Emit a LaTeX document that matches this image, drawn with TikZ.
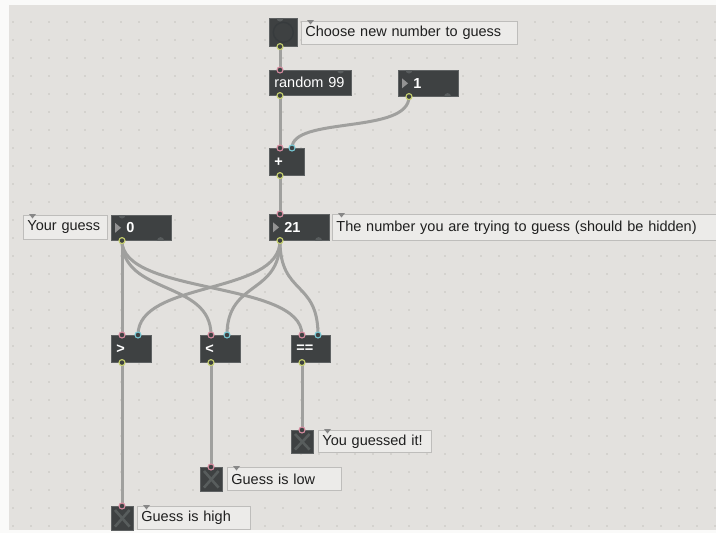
\documentclass[tikz,border=0pt]{standalone}
\usepackage{fontspec}
\setmainfont{Liberation Sans}
\usetikzlibrary{calc}
\definecolor{pagebg}{RGB}{250,250,249}
\definecolor{patchbg}{RGB}{227,225,222}
\definecolor{gridc}{RGB}{198,195,191}
\definecolor{objfill}{RGB}{62,65,66}
\definecolor{objedge}{RGB}{95,98,99}
\definecolor{dimport}{RGB}{88,92,93}
\definecolor{cmtfill}{RGB}{236,235,233}
\definecolor{cmtedge}{RGB}{190,189,187}
\definecolor{cablec}{RGB}{160,160,158}
\definecolor{hotc}{RGB}{214,140,160}
\definecolor{coldc}{RGB}{120,200,212}
\definecolor{outc}{RGB}{200,210,110}
\definecolor{markc}{RGB}{135,135,135}
\definecolor{togx}{RGB}{88,93,93}
\tikzset{
  maxobj/.style={anchor=north west, fill=objfill, draw=objedge, line width=0.6pt,
    inner xsep=5pt, inner ysep=0pt, text=white, font=\fontsize{14.5}{16}\selectfont, align=left},
  maxcmt/.style={anchor=north west, fill=cmtfill, draw=cmtedge, line width=0.8pt,
    inner xsep=4pt, inner ysep=0pt, text=black!88, font=\fontsize{14.5}{16}\selectfont, align=left},
  cablestyle/.style={draw=cablec, line width=3pt},
  hotport/.style={draw=hotc, fill=objfill, line width=1.1pt},
  coldport/.style={draw=coldc, fill=objfill, line width=1.1pt},
  outport/.style={draw=outc, fill=objfill, line width=1.1pt},
  cmtmark/.style={fill=markc},
  numtri/.style={fill=markc!90},
}
\begin{document}
\begin{tikzpicture}[x=1pt,y=-1pt]
\useasboundingbox (0,0) rectangle (716,533);
\clip (0,0) rectangle (716,533);
\fill[pagebg] (0,0) rectangle (716,533);
\fill[patchbg] (9,5) rectangle (716,530);
\foreach \i in {0,...,39}{
  \foreach \j in {0,...,28}{
    \fill[gridc] ({13+18*\i},{22+18*\j}) circle (0.8);
  }
}

% ---------- objects ----------
\node[maxobj, minimum width=28pt, minimum height=28pt, inner xsep=0pt] (bang) at (269,18) {};
\draw[draw=dimport!120, line width=1.4pt] (bang.center) circle (10);
\node[maxcmt, text width=208pt, minimum height=23pt] (cmtchoose) at (301,21) {Choose new number to guess};

\node[maxobj, text width=72pt, minimum height=25pt] (random) at (269,70) {random 99};
\node[maxobj, text width=50pt, minimum height=26pt] (one) at (398,70) {\hspace*{10pt}\textbf{1}};
\fill[numtri] ($(one.west)+(4,-5)$) -- ++(0,10) -- ++(6,-5) -- cycle;

\node[maxobj, text width=25pt, minimum height=27pt] (plus) at (269,148) {\textbf{+}};

\node[maxcmt, text width=76pt, minimum height=24pt] (cmtguess) at (23,215) {Your guess};
\node[maxobj, text width=50pt, minimum height=25pt] (zero) at (111,215) {\hspace*{10pt}\textbf{0}};
\fill[numtri] ($(zero.west)+(4,-5)$) -- ++(0,10) -- ++(6,-5) -- cycle;

\node[maxobj, text width=50pt, minimum height=26pt] (num) at (269,214) {\hspace*{10pt}\textbf{21}};
\fill[numtri] ($(num.west)+(4,-5)$) -- ++(0,10) -- ++(6,-5) -- cycle;
\node[maxcmt, text width=400pt, minimum height=26pt] (cmthidden) at (332,214) {The number you are trying to guess (should be hidden)};

\node[maxobj, text width=30pt, minimum height=27pt] (gt) at (111,335) {\textbf{>}};
\node[maxobj, text width=30pt, minimum height=27pt] (lt) at (200,335) {\textbf{<}};
\node[maxobj, text width=29pt, minimum height=27pt] (eq) at (291,335) {\textbf{==}};

\node[maxobj, minimum width=22pt, minimum height=23pt, inner xsep=0pt] (togeq) at (291,430) {};
\node[maxcmt, text width=105pt, minimum height=22pt] (cmteq) at (318,430) {You guessed it!};
\node[maxobj, minimum width=22pt, minimum height=24pt, inner xsep=0pt] (toglow) at (200,467) {};
\node[maxcmt, text width=106pt, minimum height=23pt] (cmtlow) at (227,467) {Guess is low};
\node[maxobj, minimum width=22pt, minimum height=24pt, inner xsep=0pt] (toghigh) at (111,506) {};
\node[maxcmt, text width=105pt, minimum height=23pt] (cmthigh) at (137,506) {Guess is high};

\foreach \t in {togeq,toglow,toghigh}{
  \draw[togx, line width=2.6pt] ($(\t.north west)+(4,4)$) -- ($(\t.south east)+(-4,-4)$);
  \draw[togx, line width=2.6pt] ($(\t.south west)+(4,-4)$) -- ($(\t.north east)+(-4,4)$);
}

\foreach \c in {cmtchoose,cmtguess,cmthidden,cmteq,cmtlow,cmthigh}{
  \fill[cmtmark] ($(\c.north west)+(6,-1)$) -- ++(7,0) -- ++(-3.5,4.5) -- cycle;
}

% ---------- port coordinates ----------
\coordinate (bang-o) at ($(bang.south west)+(11,0)$);
\coordinate (random-i) at ($(random.north west)+(11,0)$);
\coordinate (random-o) at ($(random.south west)+(11,0)$);
\coordinate (one-o) at ($(one.south west)+(11,0)$);
\coordinate (plus-l) at ($(plus.north west)+(11,0)$);
\coordinate (plus-r) at ($(plus.north west)+(23,0)$);
\coordinate (plus-o) at ($(plus.south west)+(11,0)$);
\coordinate (zero-o) at ($(zero.south west)+(11,0)$);
\coordinate (num-i) at ($(num.north west)+(11,0)$);
\coordinate (num-o) at ($(num.south west)+(11,0)$);
\coordinate (gt-l) at ($(gt.north west)+(11,0)$);
\coordinate (gt-r) at ($(gt.north west)+(27,0)$);
\coordinate (gt-o) at ($(gt.south west)+(11,0)$);
\coordinate (lt-l) at ($(lt.north west)+(11,0)$);
\coordinate (lt-r) at ($(lt.north west)+(27,0)$);
\coordinate (lt-o) at ($(lt.south west)+(11,0)$);
\coordinate (eq-l) at ($(eq.north west)+(11,0)$);
\coordinate (eq-r) at ($(eq.north west)+(27,0)$);
\coordinate (eq-o) at ($(eq.south west)+(11,0)$);
\coordinate (togeq-i) at ($(togeq.north west)+(11,0)$);
\coordinate (toglow-i) at ($(toglow.north west)+(11,0)$);
\coordinate (toghigh-i) at ($(toghigh.north west)+(11,0)$);

% ---------- unconnected port tabs ----------
\begin{scope}
  \clip (bang.north west) rectangle (bang.south east);
  \fill[dimport] ($(bang.north west)+(11,0)$) circle (3.5);
\end{scope}
\begin{scope}
  \clip (random.north west) rectangle (random.south east);
  \fill[dimport] ($(random.north east)+(-11,0)$) circle (3.5);
\end{scope}
\foreach \n in {one,zero,num}{
  \begin{scope}
    \clip (\n.north west) rectangle (\n.south east);
    \fill[dimport] ($(\n.north west)+(11,0)$) circle (3.5);
    \fill[dimport] ($(\n.south east)+(-11,0)$) circle (3.5);
  \end{scope}
}

% ---------- cables ----------
\draw[cablestyle] (bang-o) -- (random-i);
\draw[cablestyle] (random-o) -- (plus-l);
\draw[cablestyle] (one-o) .. controls +(0,38) and +(0,-32) .. (plus-r);
\draw[cablestyle] (plus-o) -- (num-i);
\draw[cablestyle] (zero-o) -- (gt-l);
\draw[cablestyle] (zero-o) .. controls +(0,55) and +(0,-55) .. (lt-l);
\draw[cablestyle] (zero-o) .. controls +(0,55) and +(0,-55) .. (eq-l);
\draw[cablestyle] (num-o) .. controls +(0,55) and +(0,-55) .. (gt-r);
\draw[cablestyle] (num-o) .. controls +(0,55) and +(0,-55) .. (lt-r);
\draw[cablestyle] (num-o) .. controls +(0,55) and +(0,-55) .. (eq-r);
\draw[cablestyle] (gt-o) -- (toghigh-i);
\draw[cablestyle] (lt-o) -- (toglow-i);
\draw[cablestyle] (eq-o) -- (togeq-i);

% ---------- connected ports ----------
\foreach \p in {bang-o,random-o,one-o,plus-o,zero-o,num-o,gt-o,lt-o,eq-o}{
  \draw[outport] (\p) circle (3);
}
\foreach \p in {random-i,plus-l,num-i,gt-l,lt-l,eq-l,togeq-i,toglow-i,toghigh-i}{
  \draw[hotport] (\p) circle (3);
}
\foreach \p in {plus-r,gt-r,lt-r,eq-r}{
  \draw[coldport] (\p) circle (3);
}
\end{tikzpicture}
\end{document}
